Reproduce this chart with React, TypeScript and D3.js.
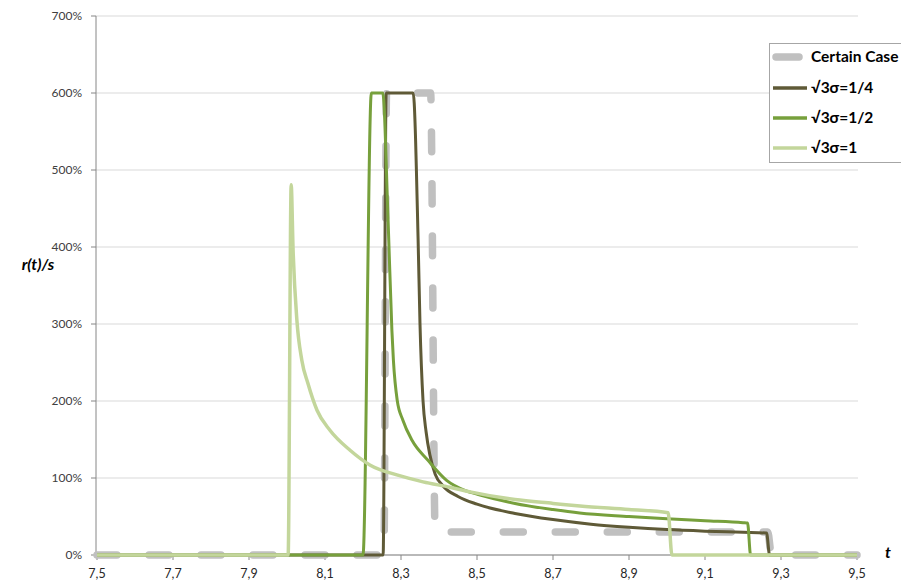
import React from "react";
import * as d3 from "d3";

// ---- data (t, r(t)/s) ----
const certainT = [7.5, 8.255, 8.262, 8.378, 8.39, 9.265, 9.275, 9.5];
const certainR = [0, 0, 6.0, 6.0, 0.3, 0.3, 0, 0];

const quarterT = [7.5, 8.253, 8.261, 8.332, 8.345, 8.35, 8.358, 8.366, 8.376, 8.39, 8.41, 8.45, 8.5, 8.6, 8.7, 8.8, 8.9, 9.0, 9.1, 9.2, 9.262, 9.27, 9.5];
const quarterR = [0, 0, 6.0, 6.0, 4.1, 3.0, 2.0, 1.6, 1.3, 1.05, 0.9, 0.76, 0.66, 0.54, 0.46, 0.4, 0.36, 0.33, 0.31, 0.295, 0.285, 0, 0];

const halfT = [7.5, 8.2, 8.222, 8.252, 8.266, 8.276, 8.28, 8.29, 8.305, 8.329, 8.371, 8.42, 8.468, 8.508, 8.6, 8.7, 8.77, 8.9, 9.0, 9.1, 9.2, 9.212, 9.22, 9.5];
const halfR = [0, 0, 6.0, 6.0, 4.35, 2.92, 2.53, 2.01, 1.75, 1.49, 1.23, 0.97, 0.84, 0.78, 0.67, 0.59, 0.545, 0.5, 0.47, 0.445, 0.42, 0.415, 0, 0];

const oneT = [7.5, 8.003, 8.011, 8.016, 8.026, 8.039, 8.055, 8.079, 8.113, 8.166, 8.218, 8.289, 8.358, 8.429, 8.482, 8.6, 8.7, 8.771, 8.9, 9.003, 9.013, 9.5];
const oneR = [0, 0, 4.81, 3.96, 3.05, 2.53, 2.23, 1.88, 1.62, 1.36, 1.17, 1.04, 0.95, 0.88, 0.82, 0.72, 0.67, 0.636, 0.59, 0.548, 0, 0];

const xTicks = [7.5, 7.7, 7.9, 8.1, 8.3, 8.5, 8.7, 8.9, 9.1, 9.3, 9.5];
const yTicks = [0, 1, 2, 3, 4, 5, 6, 7];

const seriesNames = ["Certain Case", "√3σ=1/4", "√3σ=1/2", "√3σ=1"];
const seriesColors = ["#c0c0c0", "#5f5a37", "#77a03c", "#c3d69b"];

export default function App() {
  const W = 901, H = 580;
  const x = d3.scaleLinear().domain([7.5, 9.5]).range([97, 857]);
  const y = d3.scaleLinear().domain([0, 7]).range([555, 16]);
  const line = d3
    .line<[number, number]>()
    .x((d) => x(d[0]))
    .y((d) => y(d[1]))
    .curve(d3.curveMonotoneX);

  const zip = (ts: number[], rs: number[]) => ts.map((t, i) => [t, rs[i]] as [number, number]);
  const series = [zip(certainT, certainR), zip(quarterT, quarterR), zip(halfT, halfR), zip(oneT, oneR)];
  const font = "Lato, 'Open Sans', sans-serif";
  const fmtX = (v: number) => v.toFixed(1).replace(".", ",");

  const legendRows = [57, 88, 118, 148];

  return (
    <svg width={W} height={H} style={{ position: "absolute", left: 0, top: 0, background: "#fff" }} fontFamily={font}>
      <rect x={0} y={0} width={W} height={H} fill="#fff" />
      {/* gridlines */}
      {yTicks.map((v) => (
        <line key={"g" + v} x1={96} x2={858} y1={y(v)} y2={y(v)} stroke="#d9d9d9" strokeWidth={1} />
      ))}
      {/* y axis */}
      <line x1={96} x2={96} y1={16} y2={555} stroke="#868686" />
      {yTicks.map((v) => (
        <g key={"yt" + v}>
          <line x1={91} x2={96} y1={y(v)} y2={y(v)} stroke="#868686" />
          <text x={82} y={y(v)} dy="0.35em" textAnchor="end" fontSize={12} fill="#404040">
            {v * 100 + "%"}
          </text>
        </g>
      ))}
      {/* x axis */}
      <line x1={96} x2={858} y1={555} y2={555} stroke="#868686" />
      {xTicks.map((v) => (
        <g key={"xt" + v}>
          <line x1={x(v)} x2={x(v)} y1={555} y2={560} stroke="#868686" />
          <text x={x(v)} y={574} dy="0.35em" textAnchor="middle" fontSize={12.5} fill="#262626">
            {fmtX(v)}
          </text>
        </g>
      ))}
      {/* series */}
      <path
        d={line(series[0]) || ""}
        fill="none"
        stroke={seriesColors[0]}
        strokeWidth={7.5}
        strokeDasharray="20,32"
        strokeLinecap="round"
        strokeLinejoin="round"
      />
      {[1, 2, 3].map((i) => (
        <path
          key={"s" + i}
          d={line(series[i]) || ""}
          fill="none"
          stroke={seriesColors[i]}
          strokeWidth={i === 3 ? 3.5 : 3}
          strokeLinejoin="round"
        />
      ))}
      {/* axis titles */}
      <text x={38} y={264} dy="0.35em" textAnchor="middle" fontSize={16} fontWeight="bold" fontStyle="italic" fill="#000">
        r(t)/s
      </text>
      <text x={888} y={552} dy="0.35em" textAnchor="middle" fontSize={16} fontWeight="bold" fontStyle="italic" fill="#000">
        t
      </text>
      {/* legend */}
      <rect x={769.5} y={43.5} width={140} height={119} fill="#fff" stroke="#a6a6a6" />
      {seriesNames.map((n, i) => (
        <g key={"l" + i}>
          {i === 0 ? (
            <line x1={776} x2={799} y1={legendRows[i]} y2={legendRows[i]} stroke={seriesColors[0]} strokeWidth={7.5} strokeLinecap="round" />
          ) : (
            <line x1={773} x2={807} y1={legendRows[i]} y2={legendRows[i]} stroke={seriesColors[i]} strokeWidth={3.5} />
          )}
          <text x={811} y={legendRows[i]} dy="0.35em" fontSize={15.5} fontWeight="bold" fill="#000">
            {n}
          </text>
        </g>
      ))}
    </svg>
  );
}
